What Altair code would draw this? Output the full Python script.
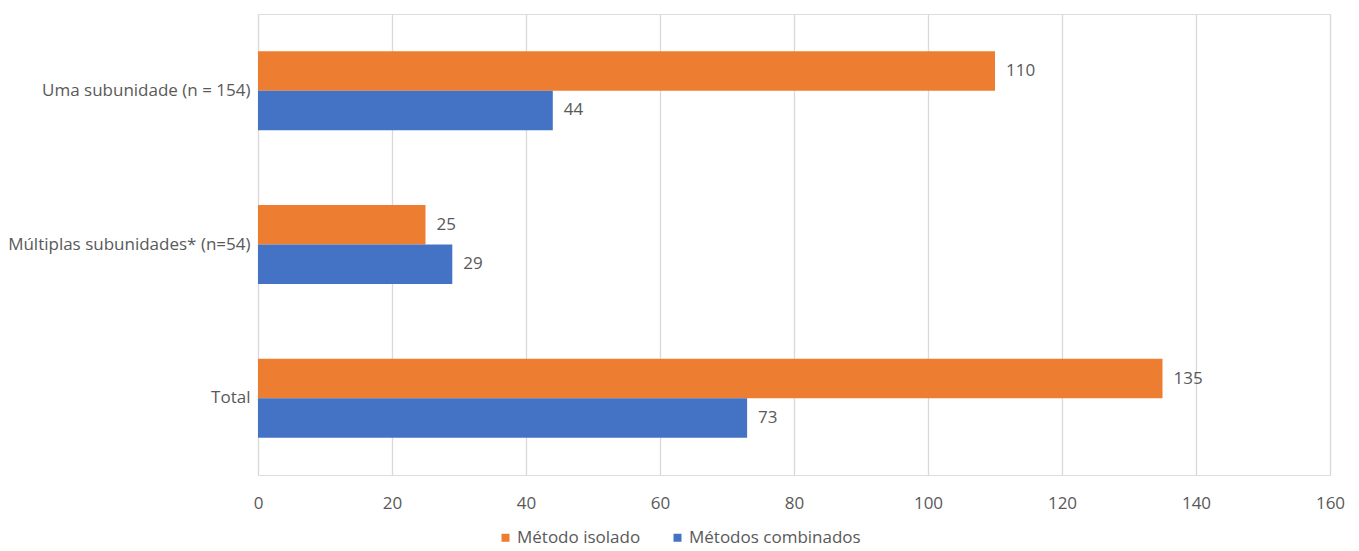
import altair as alt
import pandas as pd

categories = ["Uma subunidade (n = 154)", "Múltiplas subunidades* (n=54)", "Total"]
series = ["Método isolado", "Métodos combinados"]
isolado = [110, 25, 135]
combinados = [44, 29, 73]
colors = ["#ED7D31", "#4472C4"]
x_ticks = [0, 20, 40, 60, 80, 100, 120, 140, 160]

rows = []
for c, a, b in zip(categories, isolado, combinados):
    rows.append({"cat": c, "serie": series[0], "valor": a})
    rows.append({"cat": c, "serie": series[1], "valor": b})
df = pd.DataFrame(rows)

FONT = "Open Sans"
FS = 17
GRAY = "#595959"

y_enc = alt.Y(
    "cat:N",
    sort=categories,
    scale=alt.Scale(paddingInner=0.487, paddingOuter=0.243),
    axis=alt.Axis(
        title=None, domain=False, ticks=False, labelPadding=8,
        labelFont=FONT, labelFontSize=FS, labelColor=GRAY, labelLimit=400,
    ),
)
yoff = alt.YOffset("serie:N", sort=series, scale=alt.Scale(paddingInner=0, paddingOuter=0))
x_enc = alt.X(
    "valor:Q",
    scale=alt.Scale(domain=[0, 160], nice=False),
    axis=alt.Axis(
        title=None, values=x_ticks, domain=False, ticks=False, labelPadding=20,
        labelFlush=False, labelAlign="center",
        grid=True, gridColor="#D9D9D9", gridWidth=1.3,
        labelFont=FONT, labelFontSize=FS, labelColor=GRAY,
    ),
)

bars = alt.Chart(df).mark_bar().encode(
    x=x_enc,
    y=y_enc,
    yOffset=yoff,
    color=alt.Color(
        "serie:N",
        sort=series,
        scale=alt.Scale(domain=series, range=colors),
        legend=alt.Legend(
            title=None, orient="none", direction="horizontal",
            legendX=239, legendY=515, symbolType="square", symbolSize=64,
            symbolStrokeWidth=0, labelFont=FONT, labelFontSize=FS,
            labelColor=GRAY, columnPadding=28, labelOffset=3, labelLimit=400,
        ),
    ),
)

labels = alt.Chart(df).mark_text(
    align="left", baseline="middle", dx=11, font=FONT, fontSize=FS, color=GRAY
).encode(
    x="valor:Q",
    y=alt.Y("cat:N", sort=categories),
    yOffset=alt.YOffset("serie:N", sort=series),
    text="valor:Q",
)

chart = (
    alt.layer(bars, labels)
    .properties(
        width=1072,
        height=461,
        autosize=alt.AutoSizeParams(type="none"),
        padding={"left": 258, "top": 14, "right": 29, "bottom": 76},
    )
    .configure_view(stroke=None)
    .configure(background="white")
)

chart.save("out.html", embed_options={"renderer": "svg", "actions": False})
